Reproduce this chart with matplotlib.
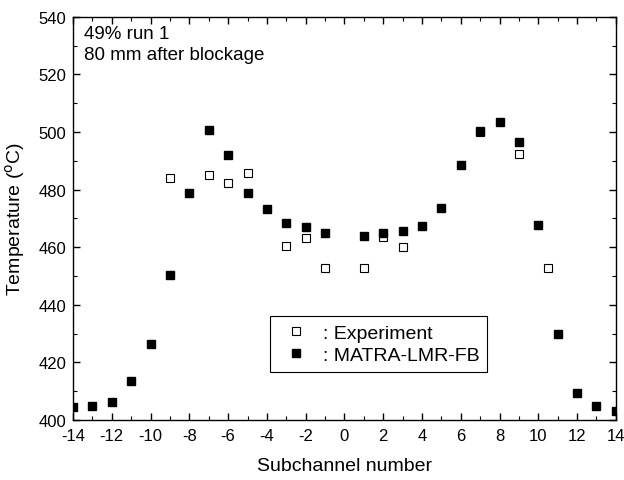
import numpy as np
import matplotlib.pyplot as plt
from matplotlib.ticker import MultipleLocator

plt.rcParams['font.family'] = ['Liberation Sans', 'DejaVu Sans']
plt.rcParams['axes.unicode_minus'] = False

# experiment (open squares)
exp_x = [-9, -7, -6, -5, -3, -2, -1, 1, 2, 3, 7, 9, 10.5]
exp_t = [484.0, 485.0, 482.3, 485.7, 460.3, 463.3, 452.7, 452.7, 463.4, 460.0, 500.0, 492.5, 452.6]

# MATRA-LMR-FB (filled squares)
sim_x = [-14, -13, -12, -11, -10, -9, -8, -7, -6, -5, -4, -3, -2, -1,
         1, 2, 3, 4, 5, 6, 7, 8, 9, 10, 11, 12, 13, 14]
sim_t = [404.3, 404.8, 406.1, 413.5, 426.2, 450.4, 478.7, 500.7, 492.0, 478.8, 473.2, 468.5, 467.1, 464.9,
         464.0, 464.8, 465.7, 467.4, 473.5, 488.5, 500.5, 503.4, 496.6, 467.7, 429.8, 409.5, 404.9, 403.1]

fig = plt.figure(figsize=(6.24, 4.81), dpi=100)
ax = fig.add_axes([0.117, 0.125, 0.87, 0.838])

ax.plot(exp_x, exp_t, 's', markersize=5.3, markerfacecolor='white',
        markeredgecolor='black', markeredgewidth=0.8, linestyle='none', label=': Experiment')
ax.plot(sim_x, sim_t, 's', markersize=5.5, color='black', linestyle='none', label=': MATRA-LMR-FB')

ax.set_xlim(-14, 14)
ax.set_ylim(400, 540)
ax.xaxis.set_major_locator(MultipleLocator(2))
ax.xaxis.set_minor_locator(MultipleLocator(1))
ax.yaxis.set_major_locator(MultipleLocator(20))
ax.yaxis.set_minor_locator(MultipleLocator(10))
ax.tick_params(which='both', direction='in', top=True, right=True, labelsize=12)
ax.tick_params(which='major', length=5, width=1)
ax.tick_params(which='minor', length=3, width=0.8)
ax.tick_params(axis='x', pad=6)
ax.tick_params(axis='y', pad=5)
for s in ax.spines.values():
    s.set_linewidth(1.0)

ax.set_xlabel('Subchannel number', fontsize=14, labelpad=10)
ax.set_ylabel('Temperature ($^{\\rm o}$C)', fontsize=14, labelpad=8)

ax.text(0.02, 0.98, '49% run 1\n80 mm after blockage', transform=ax.transAxes,
        fontsize=13.5, va='top', ha='left', linespacing=1.35)

leg = ax.legend(loc='lower left', bbox_to_anchor=(0.363, 0.119), fontsize=14,
                fancybox=False, framealpha=1, edgecolor='black', handletextpad=0.4,
                borderpad=0.4, labelspacing=0.25, handlelength=1.9, borderaxespad=0)
leg.get_frame().set_linewidth(0.8)

fig.savefig('out.png', dpi=100)
